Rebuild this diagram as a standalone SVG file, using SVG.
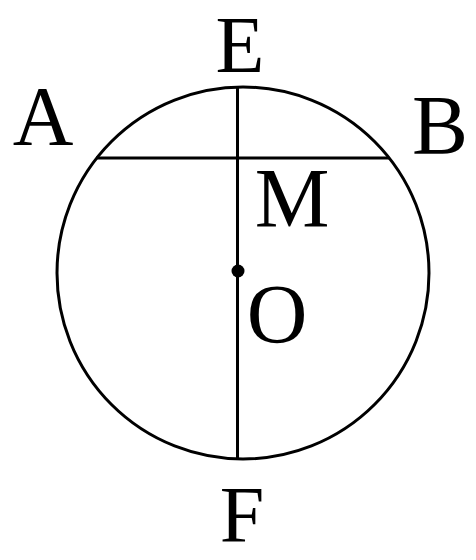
<svg xmlns="http://www.w3.org/2000/svg" width="476" height="560" viewBox="0 0 476 560">
<style>
.ln{stroke:#000;stroke-width:3;fill:none}
.lb{font-family:"Liberation Serif","Times New Roman",serif;font-size:84px;fill:#000;text-anchor:middle}
.sm{font-size:80px}
</style>
<rect width="476" height="560" fill="#fff"/>
<g id="circle"><circle class="ln" cx="243" cy="273" r="186"/></g>
<g id="lines">
<line class="ln" x1="96" y1="158" x2="389" y2="158"/>
<line class="ln" x1="237.5" y1="87" x2="237.5" y2="459"/>
</g>
<g id="center"><circle cx="238" cy="271" r="6.5" fill="#000"/></g>
<g id="labels">
<text class="lb sm" x="240" y="72">E</text>
<text class="lb" x="43" y="145">A</text>
<text class="lb" x="440" y="154">B</text>
<text class="lb" x="292" y="227">M</text>
<text class="lb" x="277" y="343">O</text>
<text class="lb sm" x="242" y="542">F</text>
</g>
</svg>
